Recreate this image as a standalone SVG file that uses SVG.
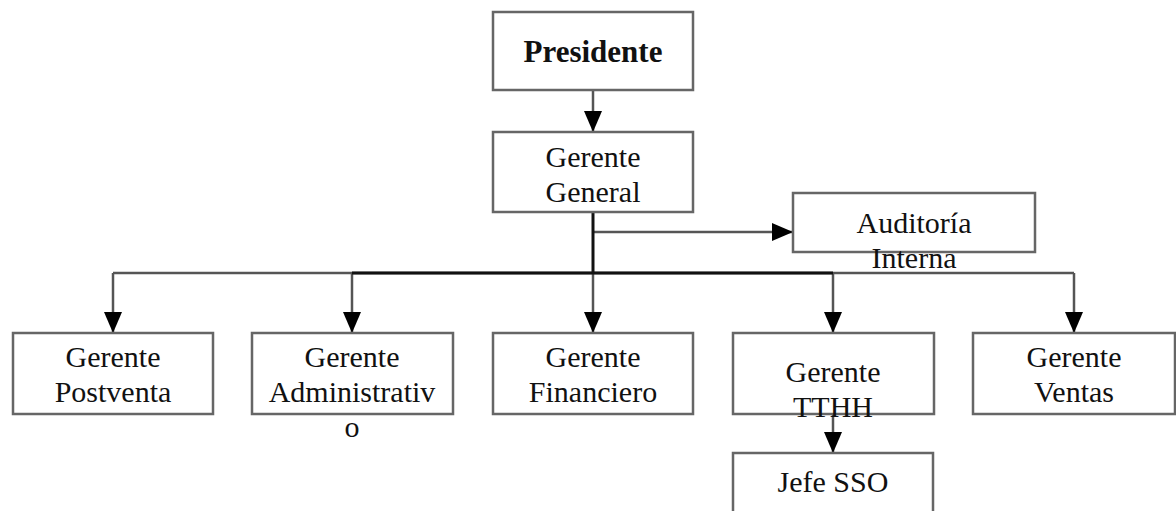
<svg xmlns="http://www.w3.org/2000/svg" width="1176" height="511" viewBox="0 0 1176 511">
<defs>
<marker id="ah" markerUnits="userSpaceOnUse" markerWidth="21" markerHeight="18" refX="21" refY="9" viewBox="0 0 21 18" orient="auto">
<path d="M0,0 L21,9 L0,18 Z" fill="#000"/>
</marker>
<style>
.box{fill:#fff;stroke:#666;stroke-width:2.5}
.t{font-family:"Liberation Serif","Times New Roman",serif;font-size:30px;fill:#111;text-anchor:middle}
.b{font-weight:bold;font-size:31px}
.ln{fill:none;stroke:#555;stroke-width:2.5}
.dk{fill:none;stroke:#111;stroke-width:3}
</style>
</defs>
<rect width="1176" height="511" fill="#fff"/>
<g id="connectors">
<path class="ln" d="M593,90 V132" marker-end="url(#ah)"/>
<path class="ln" d="M593,232 H793" marker-end="url(#ah)"/>
<path class="ln" d="M113,273 H1074"/>
<path class="ln" d="M113,273 V333" marker-end="url(#ah)"/>
<path class="ln" d="M352,273 V333" marker-end="url(#ah)"/>
<path class="ln" d="M593,273 V333" marker-end="url(#ah)"/>
<path class="ln" d="M833,273 V333" marker-end="url(#ah)"/>
<path class="ln" d="M1074,273 V333" marker-end="url(#ah)"/>
<path class="dk" d="M352,273 H833"/>
<path class="dk" d="M593,212 V273"/>
<path class="ln" d="M833,414 V453" marker-end="url(#ah)"/>
</g>
<g id="presidente">
<rect class="box" x="493" y="12" width="200" height="78"/>
<text class="t b" x="593" y="62">Presidente</text>
</g>
<g id="gerente-general">
<rect class="box" x="493" y="132" width="200" height="80"/>
<text class="t" x="593" y="167">Gerente</text>
<text class="t" x="593" y="202">General</text>
</g>
<g id="auditoria">
<rect class="box" x="793" y="193" width="242" height="59"/>
<text class="t" x="914" y="233">Auditoría</text>
<text class="t" x="914" y="268">Interna</text>
</g>
<g id="postventa">
<rect class="box" x="13" y="333" width="200" height="81"/>
<text class="t" x="113" y="367">Gerente</text>
<text class="t" x="113" y="402">Postventa</text>
</g>
<g id="administrativo">
<rect class="box" x="252" y="333" width="201" height="81"/>
<text class="t" x="352" y="367">Gerente</text>
<text class="t" x="352" y="402">Administrativ</text>
<text class="t" x="352" y="437">o</text>
</g>
<g id="financiero">
<rect class="box" x="493" y="333" width="200" height="81"/>
<text class="t" x="593" y="367">Gerente</text>
<text class="t" x="593" y="402">Financiero</text>
</g>
<g id="tthh">
<rect class="box" x="733" y="333" width="201" height="81"/>
<text class="t" x="833" y="382">Gerente</text>
<text class="t" x="833" y="417">TTHH</text>
</g>
<g id="ventas">
<rect class="box" x="973" y="333" width="202" height="81"/>
<text class="t" x="1074" y="367">Gerente</text>
<text class="t" x="1074" y="402">Ventas</text>
</g>
<g id="jefe-sso">
<rect class="box" x="733" y="453" width="200" height="70"/>
<text class="t" x="833" y="492">Jefe SSO</text>
</g>
</svg>
